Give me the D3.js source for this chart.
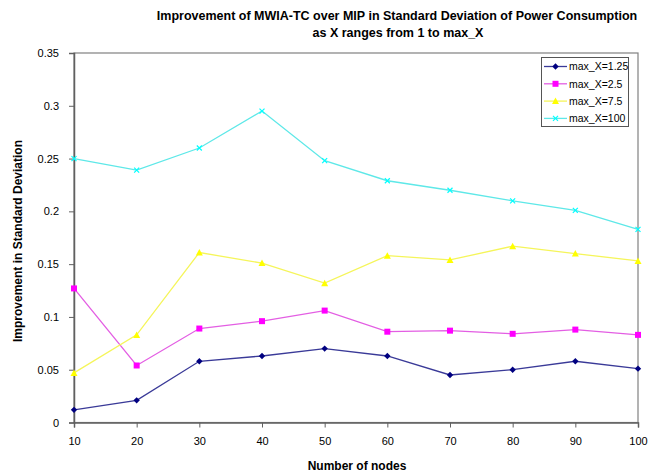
<!DOCTYPE html>
<html><head><meta charset="utf-8">
<script src="https://cdn.jsdelivr.net/npm/d3@7"></script>
<style>
body{margin:0;background:#fff;}
text{font-family:"Liberation Sans Narrow","Liberation Sans",Arial,sans-serif;fill:#000;}
</style></head>
<body><svg id="c" width="660" height="475"></svg>
<script>
const nodes = [10,20,30,40,50,60,70,80,90,100];
const seriesNames = ["max_X=1.25","max_X=2.5","max_X=7.5","max_X=100"];
const s125 = [0.012,0.021,0.058,0.063,0.070,0.063,0.045,0.050,0.058,0.051];
const s25  = [0.127,0.054,0.089,0.096,0.106,0.086,0.087,0.084,0.088,0.083];
const s75  = [0.047,0.083,0.161,0.151,0.132,0.158,0.154,0.167,0.160,0.153];
const s100 = [0.250,0.239,0.260,0.295,0.248,0.229,0.220,0.210,0.201,0.183];
const yTicks = [0,0.05,0.1,0.15,0.2,0.25,0.3,0.35];
const yTickLabels = ["0","0.05","0.1","0.15","0.2","0.25","0.3","0.35"];
const colors = ["#000080","#FF00FF","#FFFF00","#00FFFF"];
const lineColors = ["#3a3a98","#e35ee3","#f5f55a","#5ee8e8"];
const markers = ["diamond","square","triangle","x"];
const title1 = "Improvement of MWIA-TC over MIP in Standard Deviation of Power Consumption";
const title2 = "as X ranges from 1 to max_X";
const xLabel = "Number of nodes";
const yLabel = "Improvement in Standard Deviation";

const data = [s125,s25,s75,s100];
const svg = d3.select("#c");
const L=74,R=638,T=53,B=422.5;
const x = d3.scaleLinear().domain([10,100]).range([L,R]);
const y = d3.scaleLinear().domain([0,0.35]).range([B,T]);

// frame
svg.append("rect").attr("x",L).attr("y",T).attr("width",R-L).attr("height",B-T)
  .attr("fill","none").attr("stroke","#808080").attr("stroke-width",1.2);

// axes
const yAxis = d3.axisLeft(y).tickValues(yTicks).tickFormat((d,i)=>yTickLabels[i]).tickSize(5).tickPadding(10);
const gy = svg.append("g").attr("transform",`translate(${L},0)`).call(yAxis);
gy.select(".domain").attr("stroke","#606060").attr("stroke-width",1.5);
gy.selectAll(".tick line").attr("stroke","#606060");
gy.selectAll(".tick text").attr("font-size",11).style("font-family",'"Liberation Sans Narrow","Liberation Sans",Arial,sans-serif');

const xAxis = d3.axisBottom(x).tickValues(nodes).tickFormat(d3.format("d")).tickSize(5).tickPadding(10);
const gx = svg.append("g").attr("transform",`translate(0,${B})`).call(xAxis);
gx.select(".domain").attr("stroke","#606060").attr("stroke-width",1.5);
gx.selectAll(".tick line").attr("stroke","#606060");
gx.selectAll(".tick text").attr("font-size",11).style("font-family",'"Liberation Sans Narrow","Liberation Sans",Arial,sans-serif');

function marker(g, type, cx, cy, color){
  if(type==="diamond"){
    g.append("path").attr("d",`M${cx},${cy-3.2}L${cx+3.2},${cy}L${cx},${cy+3.2}L${cx-3.2},${cy}Z`).attr("fill",color);
  } else if(type==="square"){
    g.append("rect").attr("x",cx-3).attr("y",cy-3).attr("width",6).attr("height",6).attr("fill",color);
  } else if(type==="triangle"){
    g.append("path").attr("d",`M${cx},${cy-3.5}L${cx+3.5},${cy+3}L${cx-3.5},${cy+3}Z`).attr("fill",color);
  } else {
    g.append("path").attr("d",`M${cx-2.5},${cy-2.5}L${cx+2.5},${cy+2.5}M${cx+2.5},${cy-2.5}L${cx-2.5},${cy+2.5}`).attr("stroke",color).attr("stroke-width",1.2);
  }
}

const line = d3.line().x((d,i)=>x(nodes[i])).y(d=>y(d));
data.forEach((s,k)=>{
  const g = svg.append("g");
  g.append("path").datum(s).attr("d",line).attr("fill","none").attr("stroke",lineColors[k]).attr("stroke-width",1.3);
  s.forEach((v,i)=>marker(g,markers[k],x(nodes[i]),y(v),colors[k]));
});

// legend
const lg = svg.append("g");
lg.append("rect").attr("x",541.5).attr("y",57.5).attr("width",87).attr("height",69)
  .attr("fill","#fff").attr("stroke","#555").attr("stroke-width",1);
seriesNames.forEach((n,k)=>{
  const yy = 66.5 + k*17.3;
  lg.append("line").attr("x1",544).attr("x2",567).attr("y1",yy).attr("y2",yy).attr("stroke",lineColors[k]).attr("stroke-width",1.3);
  marker(lg,markers[k],555.5,yy,colors[k]);
  lg.append("text").attr("x",569).attr("y",yy+3.8).attr("font-size",10.5).text(n);
});

// titles
svg.append("text").attr("x",397).attr("y",20).attr("text-anchor","middle").attr("font-size",12.5).attr("font-weight","bold").text(title1);
svg.append("text").attr("x",398).attr("y",37).attr("text-anchor","middle").attr("font-size",12.5).attr("font-weight","bold").text(title2);
svg.append("text").attr("x",357).attr("y",470).attr("text-anchor","middle").attr("font-size",12).attr("font-weight","bold").text(xLabel);
svg.append("text").attr("transform","translate(22,241) rotate(-90)").attr("text-anchor","middle").attr("font-size",12).attr("font-weight","bold").text(yLabel);
</script></body></html>
